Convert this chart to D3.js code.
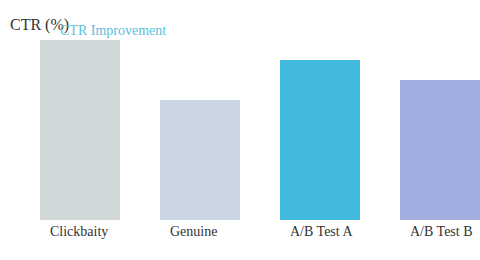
<!DOCTYPE html>
<head>
  <script src="https://d3js.org/d3.v7.min.js"></script>
  <style>
    body { margin: 0; background: #fff; }
    text { font-family: "Liberation Serif", serif; }
  </style>
</head>
<body>
  <script type="text/javascript">
    var w = 480;
    var h = 260;

    var categories = ["Clickbaity", "Genuine", "A/B Test A", "A/B Test B"];
    var ctrValues = [9, 6, 8, 7];
    var colors = ["#d0d8da", "#cad6e3", "#42b9dd", "#a3aee0"];

    var svg = d3.select("body")
      .append("svg")
      .attr("width", w)
      .attr("height", h);

    var xScale = d3.scaleBand()
                   .domain(categories)
                   .range([40, 480])
                   .paddingInner(1 / 3)
                   .paddingOuter(0)
                   .align(0);

    var yScale = d3.scaleLinear()
                   .domain([0, 9])
                   .range([220, 40]);

    svg.selectAll("rect")
      .data(ctrValues)
      .enter()
      .append("rect")
      .attr("x", function(d, i){ return xScale(categories[i]); })
      .attr("y", function(d){ return yScale(d); })
      .attr("width", xScale.bandwidth())
      .attr("height", function(d){ return yScale(0) - yScale(d); })
      .attr("fill", function(d, i){ return colors[i]; });

    svg.selectAll(".label")
      .data(categories)
      .enter()
      .append("text")
      .attr("class", "label")
      .attr("x", function(d){ return xScale(d) + 10; })
      .attr("y", 236)
      .attr("font-size", 14)
      .attr("fill", "#333")
      .text(function(d){ return d; });

    svg.append("text")
      .attr("x", 10)
      .attr("y", 30)
      .attr("font-size", 16)
      .attr("fill", "#333")
      .text("CTR (%)");

    svg.append("text")
      .attr("x", 60)
      .attr("y", 35)
      .attr("font-size", 14)
      .attr("fill", "#5bc0de")
      .text("CTR Improvement");
  </script>
</body>
